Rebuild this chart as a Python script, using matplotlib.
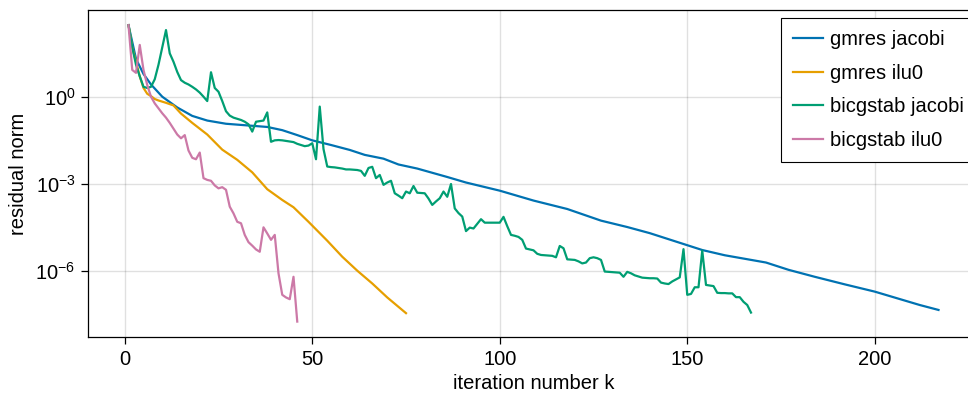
import numpy as np
import matplotlib
matplotlib.use("Agg")
from matplotlib import pyplot as plt
from matplotlib.ticker import NullLocator, FixedLocator

plt.rcParams.update({
    'font.family': ['Liberation Sans', 'DejaVu Sans'],
    'font.size': 14.5,
    'mathtext.fontset': 'custom',
    'mathtext.rm': 'Liberation Sans',
    'mathtext.it': 'Liberation Sans:italic',
})

# residual norms (log10 values)
gmres_jacobi_k = [1, 3, 5, 7, 10, 14, 18, 22, 27, 32, 38, 42, 46, 50, 55, 60, 64, 69,
                  73, 78, 86, 91, 100, 109, 118, 127, 134, 140, 147, 154, 160, 171,
                  177, 184, 192, 200, 206, 212, 217]
gmres_jacobi_log = [2.46, 1.30, 0.78, 0.42, 0.0, -0.37, -0.66, -0.82, -0.93, -0.98,
                    -1.04, -1.15, -1.32, -1.50, -1.66, -1.83, -2.0, -2.13, -2.33,
                    -2.47, -2.76, -2.95, -3.23, -3.57, -3.86, -4.26, -4.48, -4.69,
                    -4.98, -5.27, -5.45, -5.70, -5.95, -6.19, -6.45, -6.70, -6.93,
                    -7.16, -7.33]

gmres_ilu0_k = [1, 2, 3, 4, 5, 6, 7, 8, 9, 11, 13, 15, 18, 22, 26, 30, 34, 38, 42, 45,
                49, 54, 58, 62, 66, 70, 75]
gmres_ilu0_log = [2.46, 1.70, 1.20, 0.70, 0.30, 0.10, 0.02, -0.08, -0.13, -0.21, -0.30,
                  -0.58, -0.90, -1.30, -1.82, -2.17, -2.60, -3.18, -3.55, -3.80, -4.30,
                  -4.95, -5.50, -5.98, -6.42, -6.90, -7.44]

bicgstab_jacobi_log = [
    2.46, 1.70, 1.10, 0.70, 0.34, 0.30, 0.34, 0.60, 1.10, 1.70,
    2.29, 1.49, 1.20, 0.85, 0.57, 0.48, 0.42, 0.34, 0.25, 0.14,
    0.00, -0.15, 0.84, 0.30, 0.17, -0.15, -0.50, -0.65, -0.72, -0.76,
    -0.80, -0.86, -0.95, -1.20, -0.86, -0.84, -0.82, -0.54, -1.55, -1.50,
    -1.49, -1.50, -1.52, -1.54, -1.56, -1.62, -1.66, -1.70, -1.68, -1.60,
    -2.15, -0.34, -1.80, -2.40, -2.42, -2.43, -2.45, -2.47, -2.50, -2.50,
    -2.51, -2.52, -2.55, -2.72, -2.45, -2.41, -2.80, -2.69, -3.03, -2.95,
    -2.89, -3.32, -3.40, -3.49, -3.26, -3.32, -3.07, -3.30, -3.31, -3.32,
    -3.50, -3.72, -3.60, -3.49, -3.26, -3.44, -3.00, -3.84, -4.00, -4.12,
    -4.62, -4.50, -4.53, -4.37, -4.21, -4.33, -4.33, -4.33, -4.33, -4.33,
    -4.13, -4.45, -4.75, -4.78, -4.82, -4.92, -5.22, -5.25, -5.28, -5.40,
    -5.44, -5.45, -5.46, -5.47, -5.52, -5.13, -5.21, -5.59, -5.60, -5.61,
    -5.66, -5.73, -5.70, -5.55, -5.52, -5.55, -5.61, -6.01, -6.02, -6.03,
    -6.04, -6.05, -6.19, -6.02, -6.07, -6.14, -6.18, -6.22, -6.23, -6.24,
    -6.24, -6.25, -6.39, -6.42, -6.44, -6.35, -6.28, -6.21, -5.24, -6.81,
    -6.78, -6.55, -6.55, -5.29, -6.47, -6.49, -6.51, -6.74, -6.75, -6.75,
    -6.76, -6.76, -6.89, -6.89, -7.05, -7.16, -7.42]

bicgstab_ilu0_log = [
    2.46, 0.92, 0.82, 1.78, 0.92, 0.40, 0.0, -0.23, -0.40, -0.57,
    -0.72, -0.90, -1.10, -1.30, -1.43, -1.32, -1.85, -2.10, -2.15, -1.92,
    -2.80, -2.86, -2.89, -3.05, -3.15, -3.11, -3.20, -3.78, -4.01, -4.30,
    -4.35, -4.75, -5.00, -5.12, -5.25, -5.33, -4.49, -4.70, -4.92, -4.75,
    -6.07, -6.81, -6.90, -6.96, -6.19, -7.73]

labels = ['gmres jacobi', 'gmres ilu0', 'bicgstab jacobi', 'bicgstab ilu0']
colors = ['#0072B2', '#E69F00', '#009E73', '#CC79A7']

series = [
    (gmres_jacobi_k, gmres_jacobi_log),
    (gmres_ilu0_k, gmres_ilu0_log),
    (np.arange(1, len(bicgstab_jacobi_log) + 1), bicgstab_jacobi_log),
    (np.arange(1, len(bicgstab_ilu0_log) + 1), bicgstab_ilu0_log),
]

fig = plt.figure(figsize=(9.68, 3.99), dpi=100)
# axes extends a little past the right border, as in the reference crop
ax = fig.add_axes([88 / 968, 1 - 337.3 / 399, 891 / 968, 327.3 / 399])

for (k, lg), lab, c in zip(series, labels, colors):
    ax.plot(k, 10.0 ** np.asarray(lg), color=c, lw=1.6, label=lab)

ax.set_yscale('log')
ax.set_xlim(-9.8, 227.8)
ax.set_ylim(10 ** -8.27, 10 ** 2.98)
ax.xaxis.set_major_locator(FixedLocator([0, 50, 100, 150, 200]))
ax.yaxis.set_major_locator(FixedLocator([1e0, 1e-3, 1e-6]))
ax.yaxis.set_minor_locator(NullLocator())

ax.grid(True, color='black', alpha=0.12, lw=1)
ax.set_axisbelow(True)
for s in ax.spines.values():
    s.set_linewidth(0.9)
ax.tick_params(direction='out', length=5, width=0.9, pad=4, labelsize=14.5)

ax.set_xlabel('iteration number k', fontsize=14.5, labelpad=4)
ax.set_ylabel('residual norm', fontsize=14.5, labelpad=5)

leg = ax.legend(loc='upper left', bbox_to_anchor=((781 - 88) / 891, 1 - 8 / 327.3),
                borderaxespad=0, fancybox=False, edgecolor='black', framealpha=1,
                handlelength=1.45, handletextpad=0.38, labelspacing=0.72,
                borderpad=0.62, fontsize=14.5)
leg.get_frame().set_linewidth(0.8)

fig.savefig('out.png', dpi=100)
